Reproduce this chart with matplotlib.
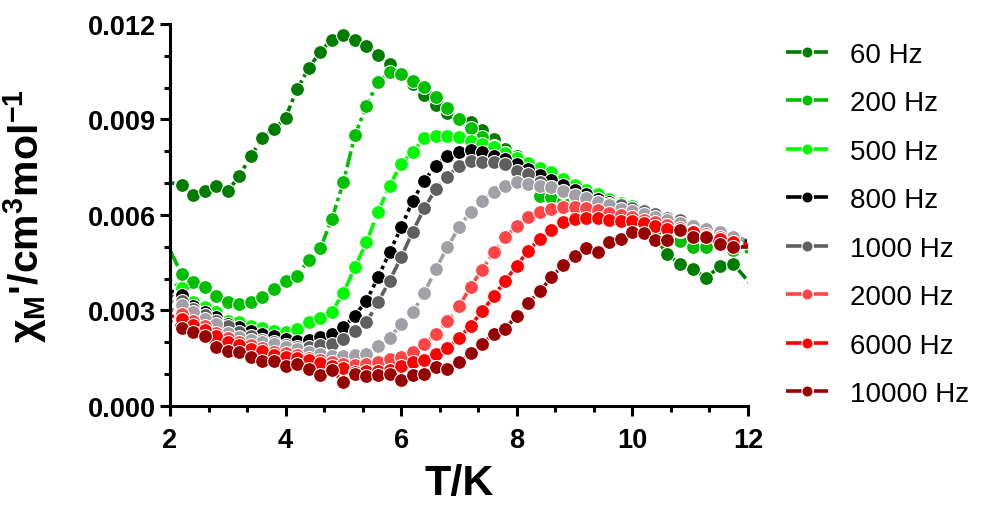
import numpy as np
import matplotlib
matplotlib.use("Agg")
import matplotlib.pyplot as plt
from matplotlib.ticker import MultipleLocator, FormatStrFormatter

plt.rcParams['font.family'] = ['Liberation Sans', 'DejaVu Sans']
plt.rcParams['mathtext.default'] = 'regular'

# temperatures (K); first and last points sit just outside the plotted range
T = [1.8, 2.2, 2.4, 2.6, 2.8, 3.0, 3.2, 3.4, 3.6, 3.8, 4.0, 4.2, 4.4, 4.6, 4.8,
     5.0, 5.2, 5.4, 5.6, 5.8, 6.0, 6.2, 6.4, 6.6, 6.8, 7.0, 7.2, 7.4, 7.6, 7.8,
     8.0, 8.2, 8.4, 8.6, 8.8, 9.0, 9.2, 9.4, 9.6, 9.8, 10.0, 10.2, 10.4, 10.6,
     10.82, 11.05, 11.28, 11.51, 11.75, 12.2]

# chi_M' in units of 1e-3 cm3/mol
chi_60 = [7.10, 6.94, 6.64, 6.76, 6.92, 6.76, 7.22, 7.86, 8.41, 8.70, 9.06, 9.96, 10.61, 11.13, 11.51,
          11.66, 11.51, 11.30, 11.03, 10.74, 10.42, 10.10, 9.78, 9.47, 9.20, 9.05, 8.93, 8.68, 8.38, 8.08,
          7.86, 7.60, 7.35, 7.10, 6.85, 6.65, 6.50, 6.35, 6.20, 6.05, 5.90, 5.65, 5.30, 4.78,
          4.46, 4.30, 4.02, 4.39, 4.46, 3.50]
chi_200 = [5.64, 4.15, 3.89, 3.73, 3.47, 3.26, 3.20, 3.26, 3.42, 3.68, 3.94, 4.09, 4.60, 4.95, 5.87,
           7.03, 8.51, 9.43, 10.19, 10.48, 10.43, 10.22, 10.01, 9.70, 9.36, 9.03, 8.72, 8.44, 8.18, 7.95,
           7.76, 7.30, 6.61, 6.56, 6.45, 6.35, 6.25, 6.15, 6.05, 5.95, 5.80, 5.65, 5.45, 5.30,
           5.19, 4.98, 4.98, 5.05, 4.90, 4.80]
chi_500 = [4.20, 3.70, 3.26, 3.10, 2.94, 2.68, 2.63, 2.52, 2.44, 2.37, 2.32, 2.42, 2.63, 2.76, 2.96,
           3.55, 4.36, 5.14, 6.10, 6.92, 7.60, 7.99, 8.41, 8.49, 8.49, 8.44, 8.34, 8.23, 8.13, 7.95,
           7.80, 7.62, 7.48, 7.34, 7.13, 6.95, 6.80, 6.65, 6.50, 6.38, 6.28, 6.15, 6.00, 5.85,
           5.50, 5.40, 5.35, 5.50, 5.30, 5.10]
chi_800 = [3.75, 3.49, 3.13, 2.95, 2.79, 2.58, 2.47, 2.37, 2.26, 2.21, 2.10, 2.05, 2.08, 2.16, 2.26,
           2.47, 2.84, 3.31, 4.04, 4.83, 5.61, 6.45, 7.08, 7.55, 7.86, 7.98, 8.05, 7.99, 7.86, 7.75,
           7.60, 7.45, 7.25, 7.10, 6.95, 6.80, 6.65, 6.50, 6.40, 6.30, 6.20, 6.08, 5.97, 5.85,
           5.70, 5.55, 5.45, 5.35, 5.25, 5.10]
chi_1000 = [3.65, 3.31, 3.05, 2.85, 2.68, 2.50, 2.33, 2.20, 2.08, 2.00, 1.93, 1.86, 1.85, 1.90, 1.95,
            2.10, 2.37, 2.63, 3.26, 3.94, 4.67, 5.48, 6.21, 6.82, 7.20, 7.55, 7.71, 7.68, 7.65, 7.60,
            7.39, 7.29, 7.03, 6.87, 6.71, 6.60, 6.50, 6.42, 6.35, 6.30, 6.22, 6.12, 6.02, 5.92,
            5.85, 5.70, 5.56, 5.45, 5.30, 5.10]
chi_1500 = [3.45, 3.17, 2.94, 2.73, 2.58, 2.29, 2.16, 2.08, 2.00, 1.95, 1.84, 1.79, 1.71, 1.63, 1.56,
            1.56, 1.60, 1.63, 1.89, 2.13, 2.58, 2.94, 3.55, 4.30, 4.99, 5.61, 6.10, 6.45, 6.73, 6.92,
            7.05, 6.97, 6.92, 6.87, 6.76, 6.62, 6.52, 6.42, 6.30, 6.20, 6.12, 6.02, 5.95, 5.85,
            5.75, 5.65, 5.55, 5.45, 5.30, 5.10]
chi_2000 = [3.20, 2.89, 2.68, 2.52, 2.30, 2.12, 2.00, 1.90, 1.82, 1.70, 1.65, 1.60, 1.52, 1.45, 1.38,
            1.32, 1.30, 1.33, 1.37, 1.48, 1.53, 1.68, 1.95, 2.26, 2.66, 3.13, 3.74, 4.28, 4.83, 5.30,
            5.66, 5.93, 6.10, 6.20, 6.25, 6.25, 6.23, 6.15, 6.06, 6.00, 5.93, 5.85, 5.78, 5.70,
            5.60, 5.51, 5.40, 5.30, 5.15, 4.95]
chi_6000 = [2.95, 2.73, 2.55, 2.40, 2.20, 2.02, 1.92, 1.80, 1.72, 1.60, 1.55, 1.50, 1.45, 1.35, 1.25,
            1.18, 1.08, 1.10, 1.10, 1.12, 1.25, 1.37, 1.45, 1.63, 1.82, 2.13, 2.52, 2.97, 3.44, 3.93,
            4.41, 4.88, 5.25, 5.54, 5.77, 5.88, 5.90, 5.90, 5.85, 5.82, 5.82, 5.75, 5.66, 5.56,
            5.50, 5.45, 5.35, 5.25, 5.15, 5.00]
chi_10000 = [2.90, 2.44, 2.32, 2.19, 1.84, 1.74, 1.71, 1.53, 1.42, 1.42, 1.27, 1.32, 1.16, 0.97, 1.14,
             0.74, 1.01, 0.93, 0.97, 1.01, 0.83, 0.97, 1.01, 1.22, 1.16, 1.37, 1.65, 1.95, 2.26, 2.42,
             2.84, 3.25, 3.60, 4.05, 4.42, 4.72, 4.95, 4.85, 5.14, 5.25, 5.46, 5.42, 5.22, 5.22,
             5.54, 5.30, 5.30, 5.09, 4.99, 5.00]

series = [
    (chi_60, '#007D00', '60 Hz'),
    (chi_200, '#00BE00', '200 Hz'),
    (chi_500, '#00FA00', '500 Hz'),
    (chi_800, '#000000', '800 Hz'),
    (chi_1000, '#5F5F5F', '1000 Hz'),
    (chi_1500, '#A0A0A6', '_nolegend_'),
    (chi_2000, '#FF4545', '2000 Hz'),
    (chi_6000, '#FF0000', '6000 Hz'),
    (chi_10000, '#990000', '10000 Hz'),
]

fig = plt.figure(figsize=(9.9, 5.06), dpi=100)
ax = fig.add_axes([0.1717, 0.1957, 0.5838, 0.7549])

for vals, col, lab in series:
    ax.plot(T, np.array(vals) * 1e-3, color=col, lw=2.6,
            linestyle=(0, (4.5, 1.1, 1.0, 1.1)),
            marker='o', markersize=10, markerfacecolor=col,
            markeredgecolor='white', markeredgewidth=0.8, label=lab)

ax.set_xlim(2, 12)
ax.set_ylim(0, 0.012)
ax.xaxis.set_major_locator(MultipleLocator(2))
ax.xaxis.set_minor_locator(MultipleLocator(2 / 3))
ax.yaxis.set_major_locator(MultipleLocator(0.003))
ax.yaxis.set_minor_locator(MultipleLocator(0.001))
ax.yaxis.set_major_formatter(FormatStrFormatter('%.3f'))

for s in ['top', 'right']:
    ax.spines[s].set_visible(False)
for s in ['left', 'bottom']:
    ax.spines[s].set_linewidth(2.2)

ax.tick_params(which='major', direction='out', length=7, width=2.2, labelsize=19.5)
ax.tick_params(which='minor', direction='out', length=4, width=2.2)
ax.tick_params(axis='x', pad=8)
ax.tick_params(axis='y', pad=3)
for lbl in ax.get_xticklabels() + ax.get_yticklabels():
    lbl.set_fontweight('bold')

ax.set_xlabel('T/K', fontsize=31, fontweight='bold', labelpad=7)
ax.set_ylabel("χ$_{M}$'/cm$^{3}$mol$^{-1}$", fontsize=29.5, fontweight='bold', labelpad=28)

ax.legend(loc='upper left', bbox_to_anchor=(0.794, 0.916), bbox_transform=fig.transFigure,
          frameon=False, fontsize=20, handlelength=1.5, handletextpad=0.8,
          labelspacing=0.81, borderpad=0, borderaxespad=0, markerscale=0.8)

fig.savefig('out.png', dpi=100)
